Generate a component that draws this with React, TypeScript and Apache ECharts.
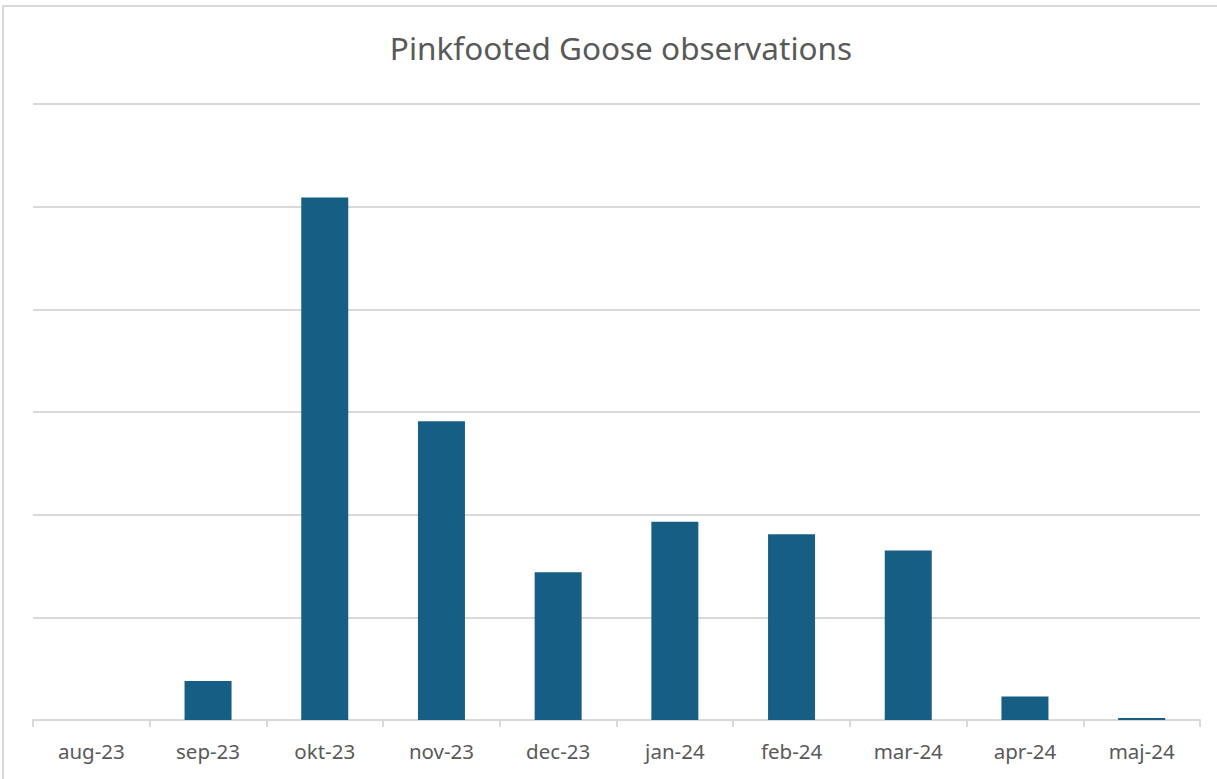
import React, { useEffect, useRef } from "react";
import * as echarts from "echarts";

const categories = ["aug-23", "sep-23", "okt-23", "nov-23", "dec-23", "jan-24", "feb-24", "mar-24", "apr-24", "maj-24"];
const observations = [0, 38, 509, 291, 144, 193, 181, 165, 23, 2];
const titleText = "Pinkfooted Goose observations";

export default function App() {
  const ref = useRef<HTMLDivElement>(null);
  useEffect(() => {
    document.body.style.margin = "0";
    if (!ref.current) return;
    const chart = echarts.init(ref.current, undefined, { renderer: "svg" });
    chart.setOption({
      animation: false,
      backgroundColor: "#ffffff",
      title: {
        text: titleText,
        left: 616,
        textAlign: "center",
        top: 26,
        textStyle: { fontFamily: "Noto Sans", fontSize: 31.5, fontWeight: "normal", color: "#595959" },
      },
      graphic: [
        {
          type: "rect",
          shape: { x: 3, y: 6, width: 1230, height: 790 },
          style: { fill: "none", stroke: "#d9d9d9", lineWidth: 2 },
          silent: true,
        },
      ],
      grid: { left: 33, right: 17, top: 104, bottom: 59 },
      xAxis: {
        type: "category",
        data: categories,
        axisLine: { lineStyle: { color: "#d9d9d9", width: 2 } },
        axisTick: { show: true, length: 7, lineStyle: { color: "#d9d9d9", width: 2 } },
        axisLabel: { color: "#595959", fontSize: 20.5, fontFamily: "Noto Sans", margin: 20 },
      },
      yAxis: {
        type: "value",
        min: 0,
        max: 600,
        interval: 100,
        axisLabel: { show: false },
        axisLine: { show: false },
        axisTick: { show: false },
        splitLine: { lineStyle: { color: "#d9d9d9", width: 2 } },
      },
      series: [
        {
          type: "bar",
          data: observations,
          barWidth: 47,
          itemStyle: { color: "#165e83" },
        },
      ],
    });
    return () => chart.dispose();
  }, []);
  return <div ref={ref} style={{ width: 1217, height: 779 }} />;
}
